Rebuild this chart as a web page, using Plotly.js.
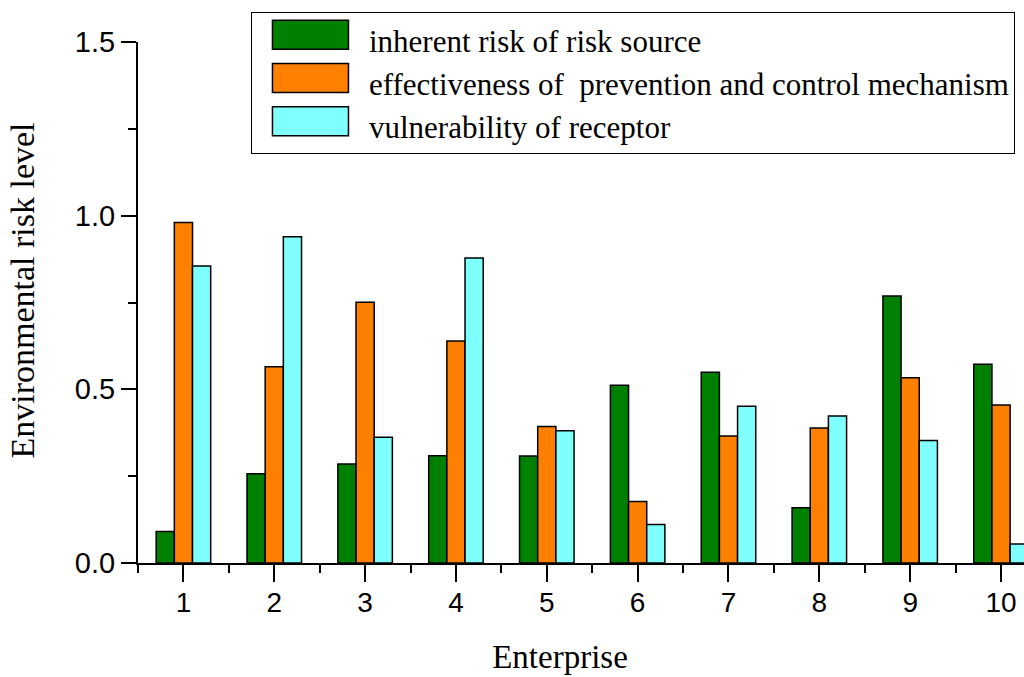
<!DOCTYPE html>
<html>
<head>
<meta charset="utf-8">
<script src="https://cdn.plot.ly/plotly-3.0.1.min.js"></script>
<style>
html,body{margin:0;padding:0;background:#fff;overflow:hidden;}
#chart{width:1024px;height:677px;}
</style>
</head>
<body>
<div id="chart"></div>
<script>
const enterprises = [1, 2, 3, 4, 5, 6, 7, 8, 9, 10];
const inherentRisk = [0.091, 0.257, 0.285, 0.309, 0.308, 0.512, 0.549, 0.159, 0.769, 0.572];
const effectiveness = [0.980, 0.565, 0.751, 0.639, 0.393, 0.177, 0.366, 0.389, 0.533, 0.455];
const vulnerability = [0.855, 0.939, 0.362, 0.878, 0.381, 0.111, 0.451, 0.423, 0.353, 0.055];
const seriesNames = [
  'inherent risk of risk source',
  'effectiveness of  prevention and control mechanism',
  'vulnerability of receptor'
];
const seriesColors = ['#008000', '#FF8000', '#80FFFF'];
const seriesValues = [inherentRisk, effectiveness, vulnerability];

const serif = '"Liberation Serif", "Times New Roman", serif';
const sans = '"Liberation Sans", Arial, sans-serif';

const traces = seriesValues.map((vals, i) => ({
  type: 'bar',
  x: enterprises,
  y: vals,
  name: seriesNames[i],
  marker: {color: seriesColors[i], line: {color: '#000', width: 1.5}}
}));

const layout = {
  width: 1024,
  height: 677,
  margin: {l: 138, r: 0, t: 42, b: 114, pad: 0},
  paper_bgcolor: '#fff',
  plot_bgcolor: '#fff',
  barmode: 'group',
  bargap: 0.4,
  bargroupgap: 0,
  showlegend: true,
  legend: {
    x: 0.1275, y: 1.0576, xanchor: 'left', yanchor: 'top',
    bgcolor: '#fff', bordercolor: '#000', borderwidth: 1,
    font: {family: serif, size: 31, color: '#000'},
    itemwidth: 107,
    tracegroupgap: 0
  },
  xaxis: {
    type: 'linear',
    range: [0.5, 10.253],
    tickmode: 'array',
    tickvals: enterprises,
    ticktext: enterprises.map(String),
    ticks: 'outside', ticklen: 17, tickwidth: 2, tickcolor: '#000',
    ticklabelstandoff: -4,
    minor: {dtick: 0.5, tick0: 0.5, ticks: 'outside', ticklen: 8, tickwidth: 2, tickcolor: '#000'},
    showline: true, linecolor: '#000', linewidth: 2,
    showgrid: false, zeroline: false,
    tickfont: {family: sans, size: 28, color: '#000'},
    title: {text: 'Enterprise', font: {family: serif, size: 33, color: '#000'}, standoff: 28},
    automargin: false
  },
  yaxis: {
    range: [0, 1.5],
    tick0: 0, dtick: 0.5,
    tickformat: '.1f',
    ticks: 'outside', ticklen: 15, tickwidth: 2, tickcolor: '#000',
    minor: {dtick: 0.25, ticks: 'outside', ticklen: 8, tickwidth: 2, tickcolor: '#000'},
    showline: true, linecolor: '#000', linewidth: 2,
    showgrid: false, zeroline: false,
    tickfont: {family: sans, size: 29, color: '#000'},
    title: {text: 'Environmental risk level', font: {family: serif, size: 34, color: '#000'}, standoff: 30},
    automargin: false
  }
};

Plotly.newPlot('chart', traces, layout, {displayModeBar: false, staticPlot: true}).then(gd => {
  gd.querySelectorAll('.legend .legendpoints path').forEach(p => {
    p.setAttribute('d', 'M38,9.5H-38V-19.5H38Z');
    p.style.strokeWidth = '1.5px';
    p.style.stroke = '#000';
  });
  const xt = gd.querySelector('.g-xtitle');
  if (xt) xt.setAttribute('transform', 'translate(-21,0)');
  const yt = gd.querySelector('.g-ytitle');
  if (yt) yt.setAttribute('transform', 'translate(0,-12)');
});
</script>
</body>
</html>
